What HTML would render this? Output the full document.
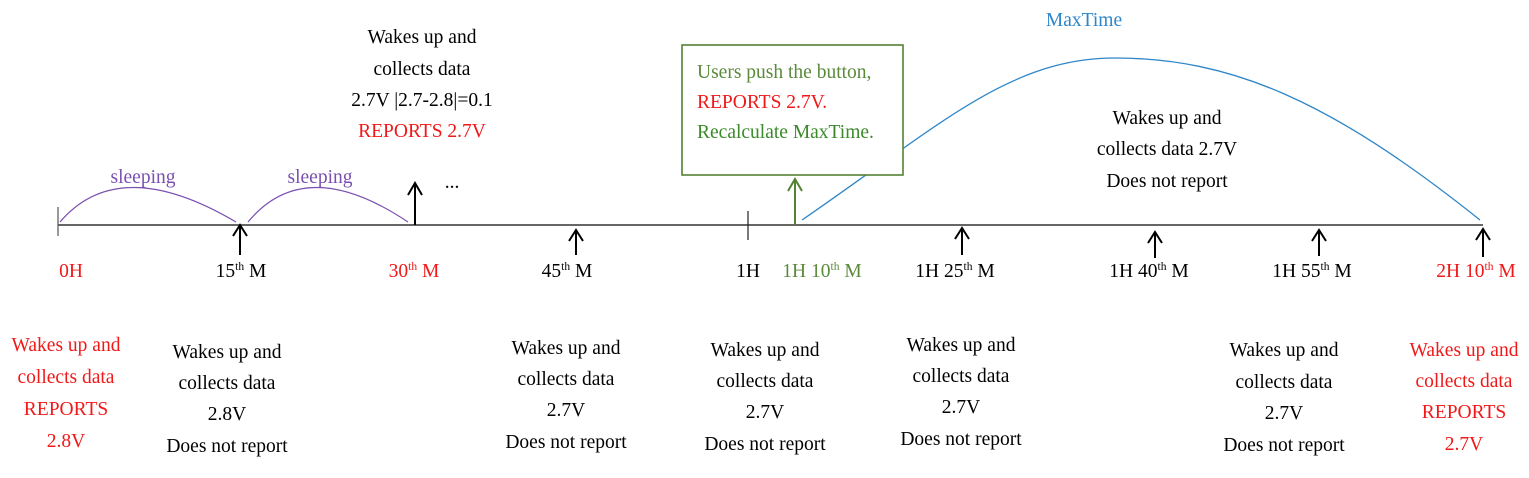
<!DOCTYPE html>
<html><head><style>
html,body{margin:0;padding:0;background:#fff;}
svg{display:block;font-family:"Liberation Serif",serif;font-size:19.5px;}
</style></head><body>
<svg width="1529" height="478" viewBox="0 0 1529 478" xmlns="http://www.w3.org/2000/svg">
<!-- main line -->
<line x1="58" y1="225" x2="1483" y2="225" stroke="#333" stroke-width="1.6"/>
<line x1="58" y1="207" x2="58" y2="236" stroke="#555" stroke-width="1.2"/>
<line x1="748" y1="211" x2="748" y2="240" stroke="#222" stroke-width="1.2"/>
<!-- purple arcs -->
<path d="M60,222 Q119,153 236,222" fill="none" stroke="#7a4fb0" stroke-width="1.2"/>
<path d="M248,222 Q305,153 408,222" fill="none" stroke="#7a4fb0" stroke-width="1.2"/>
<!-- blue arc -->
<path d="M802,220 C940,125 1010,58 1115,58 C1230,58 1330,100 1480,220" fill="none" stroke="#2e86c8" stroke-width="1.3"/>
<!-- arrows -->
<g stroke="#000" stroke-width="2" fill="none">
<path d="M240,255 V226 M233,236 L240,225 L247,236"/>
<path d="M415,225 V184 M408,195 L415,183 L422,195"/>
<path d="M576,255 V231 M569,241 L576,230 L583,241"/>
<path d="M962,255 V229 M955,239 L962,228 L969,239"/>
<path d="M1155,258 V233 M1148,243 L1155,232 L1162,243"/>
<path d="M1319,256 V231 M1312,241 L1319,230 L1326,241"/>
<path d="M1483,257 V230 M1476,240 L1483,229 L1490,240"/>
</g>
<path d="M795,225 V180 M788,191 L795,179 L802,191" stroke="#548235" stroke-width="2" fill="none"/>
<!-- green box -->
<rect x="682" y="45" width="221" height="130" fill="#fff" stroke="#548235" stroke-width="1.6"/>
<text x="697" y="78" fill="#5a8a3a">Users push the button,</text>
<text x="697" y="108" fill="#f01818">REPORTS 2.7V.</text>
<text x="697" y="138" fill="#3a8a2a">Recalculate MaxTime.</text>
<text x="1084" y="26" fill="#2e86c8" text-anchor="middle">MaxTime</text>
<!-- sleeping -->
<text x="143" y="183" fill="#7a4fb0" text-anchor="middle">sleeping</text>
<text x="320" y="183" fill="#7a4fb0" text-anchor="middle">sleeping</text>
<text x="452" y="188" fill="#000" text-anchor="middle">...</text>
<!-- top middle text -->
<g text-anchor="middle" fill="#000">
<text x="422" y="43">Wakes up and</text>
<text x="422" y="75">collects data</text>
<text x="422" y="106">2.7V |2.7-2.8|=0.1</text>
<text x="422" y="137" fill="#f01818">REPORTS 2.7V</text>
<text x="1167" y="124">Wakes up and</text>
<text x="1167" y="155">collects data 2.7V</text>
<text x="1167" y="187">Does not report</text>
</g>
<!-- axis labels -->
<g text-anchor="middle" fill="#000">
<text x="71" y="277" fill="#f01818">0H</text>
<text x="241" y="277">15<tspan font-size="11.5" dy="-7">th</tspan><tspan dy="7"> M</tspan></text>
<text x="414" y="277" fill="#f01818">30<tspan font-size="11.5" dy="-7">th</tspan><tspan dy="7"> M</tspan></text>
<text x="567" y="277">45<tspan font-size="11.5" dy="-7">th</tspan><tspan dy="7"> M</tspan></text>
<text x="748" y="277">1H</text>
<text x="822" y="277" fill="#5a8a3a">1H 10<tspan font-size="11.5" dy="-7">th</tspan><tspan dy="7"> M</tspan></text>
<text x="955" y="277">1H 25<tspan font-size="11.5" dy="-7">th</tspan><tspan dy="7"> M</tspan></text>
<text x="1149" y="277">1H 40<tspan font-size="11.5" dy="-7">th</tspan><tspan dy="7"> M</tspan></text>
<text x="1312" y="277">1H 55<tspan font-size="11.5" dy="-7">th</tspan><tspan dy="7"> M</tspan></text>
<text x="1476" y="277" fill="#f01818">2H 10<tspan font-size="11.5" dy="-7">th</tspan><tspan dy="7"> M</tspan></text>
</g>
<!-- bottom texts -->
<g text-anchor="middle" fill="#f01818">
<text x="66" y="351">Wakes up and</text>
<text x="66" y="383">collects data</text>
<text x="66" y="415">REPORTS</text>
<text x="66" y="447">2.8V</text>
<text x="1464" y="356">Wakes up and</text>
<text x="1464" y="387">collects data</text>
<text x="1464" y="418">REPORTS</text>
<text x="1464" y="450">2.7V</text>
</g>
<g text-anchor="middle" fill="#000">
<text x="227" y="358">Wakes up and</text>
<text x="227" y="389">collects data</text>
<text x="227" y="420">2.8V</text>
<text x="227" y="452">Does not report</text>
<text x="566" y="354">Wakes up and</text>
<text x="566" y="385">collects data</text>
<text x="566" y="416">2.7V</text>
<text x="566" y="448">Does not report</text>
<text x="765" y="356">Wakes up and</text>
<text x="765" y="387">collects data</text>
<text x="765" y="418">2.7V</text>
<text x="765" y="450">Does not report</text>
<text x="961" y="351">Wakes up and</text>
<text x="961" y="382">collects data</text>
<text x="961" y="413">2.7V</text>
<text x="961" y="445">Does not report</text>
<text x="1284" y="356">Wakes up and</text>
<text x="1284" y="388">collects data</text>
<text x="1284" y="419">2.7V</text>
<text x="1284" y="451">Does not report</text>
</g>
</svg>
</body></html>
